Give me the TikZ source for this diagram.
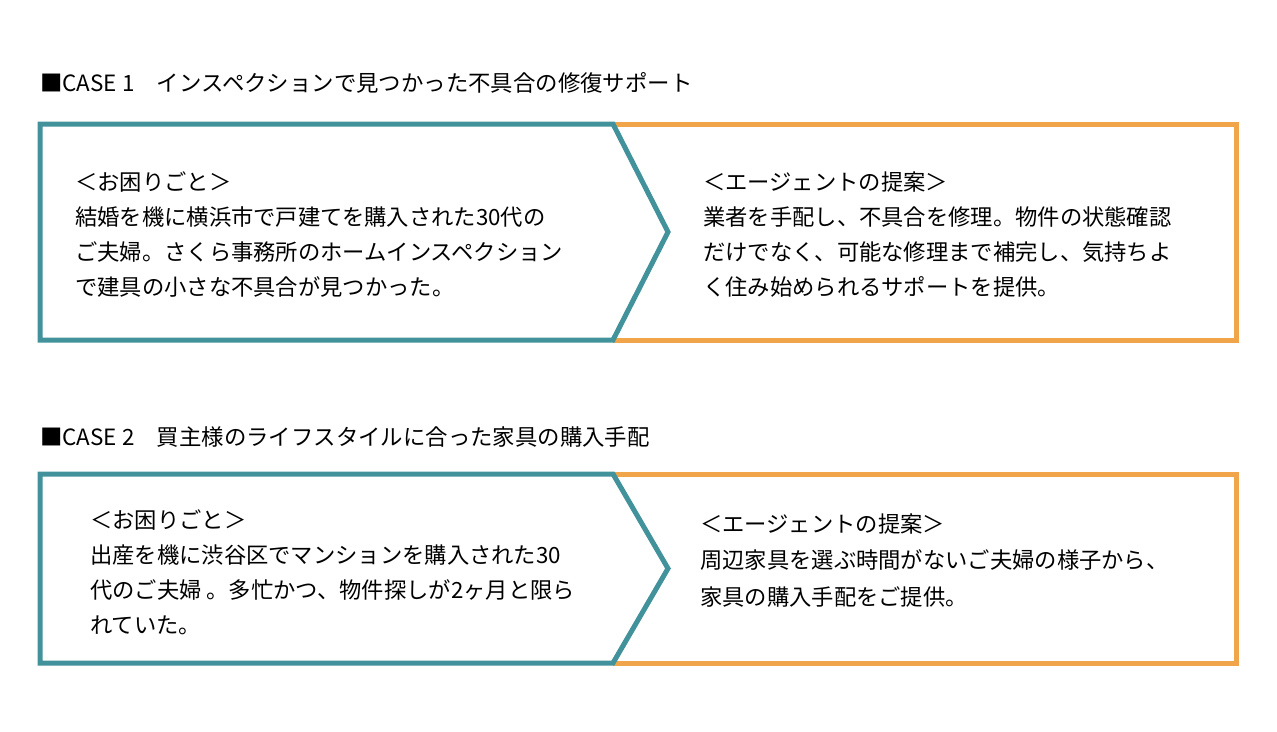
\documentclass[tikz,border=0pt]{standalone}
\usepackage{fontspec}
\setmainfont{Noto Sans CJK JP}
\usetikzlibrary{calc,positioning}
\definecolor{caseteal}{RGB}{66,146,155}
\definecolor{caseorange}{RGB}{240,165,74}
\tikzset{
 casetitle/.style={anchor=base west, inner sep=0, font=\fontsize{22.4}{26}\selectfont},
 casetext/.style={anchor=base west, inner sep=0, align=left, font=\fontsize{22.3}{35}\selectfont},
 probframe/.style={caseteal, line width=5pt, line join=miter},
 ideaframe/.style={caseorange, line width=5pt, line join=miter}
}
\begin{document}
\begin{tikzpicture}[x=1pt, y=-1pt]
 \useasboundingbox (0,0) rectangle (1277,731);
 % case 1 (text nodes sit on the baseline of their last line)
 \node[casetitle] (title1) at (40,91) {■CASE 1　インスペクションで見つかった不具合の修復サポート};
 \draw[ideaframe] (613,124) -- (1236,124) -- (1236,340) -- (613,340);
 \draw[probframe] (613,124) -- (40,124) -- (40,340) -- (613,340) -- (668,232) -- cycle;
 \node[casetext] (prob1) at (75,295) {＜お困りごと＞\\結婚を機に横浜市で戸建てを購入された30代の\\ご夫婦。さくら事務所のホームインスペクション\\で建具の小さな不具合が見つかった。};
 \node[casetext] (idea1) at (703,295) {＜エージェントの提案＞\\業者を手配し、不具合を修理。物件の状態確認\\だけでなく、可能な修理まで補完し、気持ちよ\\く住み始められるサポートを提供。};
 % case 2
 \node[casetitle] (title2) at (40,445) {■CASE 2　買主様のライフスタイルに合った家具の購入手配};
 \draw[ideaframe] (613,474) -- (1236,474) -- (1236,663) -- (613,663);
 \draw[probframe] (613,474) -- (40,474) -- (40,663) -- (613,663) -- (668,568.5) -- cycle;
 \node[casetext] (prob2) at (90,633) {＜お困りごと＞\\出産を機に渋谷区でマンションを購入された30\\代のご夫婦 。多忙かつ、物件探しが2ヶ月と限ら\\れていた。};
 \node[casetext, font=\fontsize{22.3}{36.5}\selectfont] (idea2) at (700,605) {＜エージェントの提案＞\\周辺家具を選ぶ時間がないご夫婦の様子から、\\家具の購入手配をご提供。};
\end{tikzpicture}
\end{document}
